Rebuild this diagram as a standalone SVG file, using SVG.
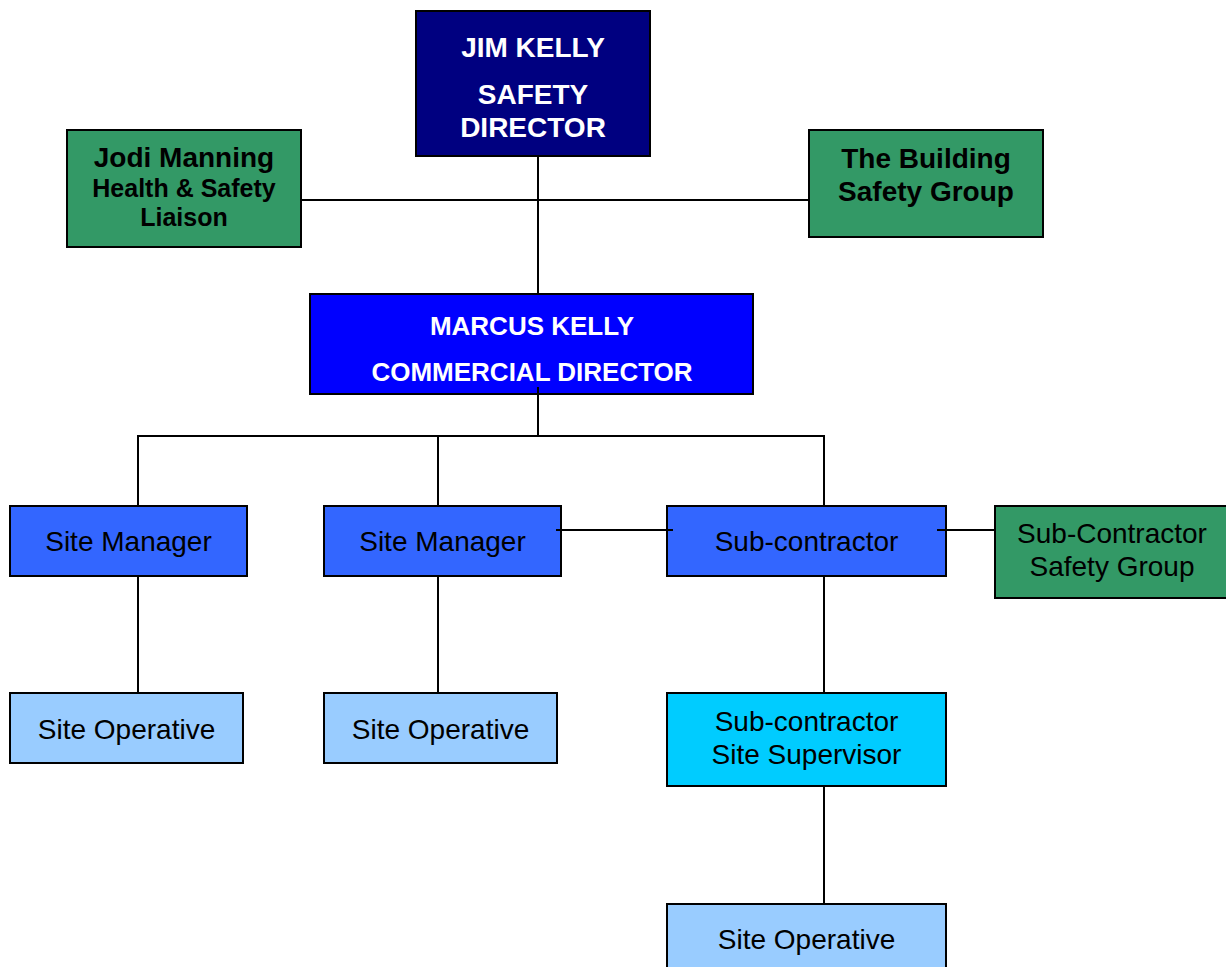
<svg xmlns="http://www.w3.org/2000/svg" width="1226" height="967" viewBox="0 0 1226 967">
<style>
rect{stroke:#000;stroke-width:2}
text{font-family:"Liberation Sans",Arial,sans-serif;text-anchor:middle}
.b{font-weight:bold}
.w{fill:#fff}
.k{fill:#000}
#connectors line{stroke:#000;stroke-width:2}
</style>
<rect width="1226" height="967" fill="#fff" style="stroke:none"/>
<g id="jim">
<rect x="416" y="11" width="234" height="145" fill="#000080"/>
<text class="b w" x="533" y="57" font-size="28">JIM KELLY</text>
<text class="b w" x="533" y="104" font-size="28">SAFETY</text>
<text class="b w" x="533" y="137" font-size="28">DIRECTOR</text>
</g>
<g id="jodi">
<rect x="67" y="130" width="234" height="117" fill="#339966"/>
<text class="b k" x="184" y="167" font-size="28">Jodi Manning</text>
<text class="b k" x="184" y="197" font-size="25">Health &amp; Safety</text>
<text class="b k" x="184" y="226" font-size="25">Liaison</text>
</g>
<g id="building">
<rect x="809" y="130" width="234" height="107" fill="#339966"/>
<text class="b k" x="926" y="168" font-size="28">The Building</text>
<text class="b k" x="926" y="201" font-size="28">Safety Group</text>
</g>
<g id="marcus">
<rect x="310" y="294" width="443" height="100" fill="#0000FF"/>
<text class="b w" x="532" y="335" font-size="26">MARCUS KELLY</text>
<text class="b w" x="532" y="381" font-size="26">COMMERCIAL DIRECTOR</text>
</g>
<g id="sm1">
<rect x="10" y="506" width="237" height="70" fill="#3366FF"/>
<text class="k" x="128.5" y="551" font-size="28">Site Manager</text>
</g>
<g id="sm2">
<rect x="324" y="506" width="237" height="70" fill="#3366FF"/>
<text class="k" x="442.5" y="551" font-size="28">Site Manager</text>
</g>
<g id="sub">
<rect x="667" y="506" width="279" height="70" fill="#3366FF"/>
<text class="k" x="806.5" y="551" font-size="28">Sub-contractor</text>
</g>
<g id="subsafety">
<rect x="995" y="506" width="233" height="92" fill="#339966"/>
<text class="k" x="1112" y="543" font-size="28">Sub-Contractor</text>
<text class="k" x="1112" y="576" font-size="28">Safety Group</text>
</g>
<g id="so1">
<rect x="10" y="693" width="233" height="70" fill="#99CCFF"/>
<text class="k" x="126.5" y="739" font-size="28">Site Operative</text>
</g>
<g id="so2">
<rect x="324" y="693" width="233" height="70" fill="#99CCFF"/>
<text class="k" x="440.5" y="739" font-size="28">Site Operative</text>
</g>
<g id="supervisor">
<rect x="667" y="693" width="279" height="93" fill="#00CCFF"/>
<text class="k" x="806.5" y="731" font-size="28">Sub-contractor</text>
<text class="k" x="806.5" y="764" font-size="28">Site Supervisor</text>
</g>
<g id="so3">
<rect x="667" y="904" width="279" height="70" fill="#99CCFF"/>
<text class="k" x="806.5" y="949" font-size="28">Site Operative</text>
</g>
<g id="connectors">
<line x1="538" y1="157" x2="538" y2="293"/>
<line x1="302" y1="200" x2="808" y2="200"/>
<line x1="538" y1="387" x2="538" y2="436"/>
<line x1="137" y1="436" x2="825" y2="436"/>
<line x1="138" y1="436" x2="138" y2="505"/>
<line x1="438" y1="436" x2="438" y2="505"/>
<line x1="824" y1="436" x2="824" y2="505"/>
<line x1="138" y1="577" x2="138" y2="692"/>
<line x1="438" y1="577" x2="438" y2="692"/>
<line x1="824" y1="577" x2="824" y2="692"/>
<line x1="824" y1="787" x2="824" y2="903"/>
<line x1="556" y1="530" x2="673" y2="530"/>
<line x1="937" y1="530" x2="995" y2="530"/>
</g>
</svg>
